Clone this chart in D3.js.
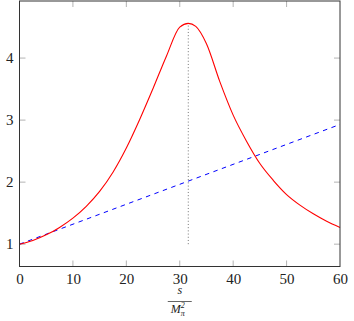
<!DOCTYPE html>
<html>
<head>
<meta charset="utf-8">
<script src="https://cdn.jsdelivr.net/npm/d3@7"></script>
<style>
  body { margin: 0; background: #fff; }
  svg text { font-family: "Liberation Serif", "DejaVu Serif", serif; }
</style>
</head>
<body>
<svg id="chart" width="354" height="321"></svg>
<script>
// form factor curve
const sValues = [0, 2.5, 5, 7.5, 10, 12.5, 15, 17.5, 20, 22.5, 25, 27.5, 30, 31.6, 33, 35, 37.5, 40, 42.5, 45, 47.5, 50, 52.5, 55, 57.5, 60];
const formFactor = [1.00, 1.06, 1.15, 1.27, 1.42, 1.61, 1.85, 2.16, 2.55, 3.01, 3.51, 4.03, 4.50, 4.56, 4.51, 4.23, 3.62, 3.08, 2.66, 2.30, 2.03, 1.80, 1.63, 1.49, 1.37, 1.27];
// straight dashed line
const lineS = [0, 60];
const lineValues = [1, 2.93];
// vertical marker at the peak
const peakS = 31.6;
const peakRange = [1, 4.56];

const xTicks = [0, 10, 20, 30, 40, 50, 60];
const yTicks = [1, 2, 3, 4];

const margin = {left: 19.5, right: 14, top: 1, bottom: 54.5};
const width = 354, height = 321;

const svg = d3.select('#chart');

const xScale = d3.scaleLinear()
  .domain([0, 60])
  .range([margin.left, width - margin.right]);
const yScale = d3.scaleLinear()
  .domain([0.64, 4.92])
  .range([height - margin.bottom, margin.top]);

const tickLen = 6;
const gridColor = '#b3b3b3';

const xAxisBottom = d3.axisBottom(xScale).tickValues(xTicks).tickFormat(d3.format('d')).tickSize(0).tickPadding(7);
const yAxisLeft = d3.axisLeft(yScale).tickValues(yTicks).tickFormat(d3.format('d')).tickSize(0).tickPadding(6);

const gx = svg.append('g')
  .attr('transform', `translate(0, ${yScale.range()[0]})`)
  .call(xAxisBottom);
gx.select('.domain').remove();
gx.selectAll('text')
  .attr('font-size', 15)
  .attr('fill', '#222')
  .attr('font-family', '"Liberation Serif", serif');

const gy = svg.append('g')
  .attr('transform', `translate(${xScale.range()[0]}, 0)`)
  .call(yAxisLeft);
gy.select('.domain').remove();
gy.selectAll('text')
  .attr('font-size', 15)
  .attr('fill', '#222')
  .attr('font-family', '"Liberation Serif", serif');

const x0 = xScale.range()[0], x1 = xScale.range()[1];
const y0 = yScale.range()[0], y1 = yScale.range()[1];

// ticks on all four sides, pointing inwards
const ticks = svg.append('g').attr('stroke', gridColor).attr('stroke-width', 1);
const innerX = xTicks.filter(d => d > 0 && d < 60);
ticks.selectAll('.tb').data(innerX).join('line')
  .attr('x1', d => xScale(d)).attr('x2', d => xScale(d))
  .attr('y1', y0).attr('y2', y0 - tickLen);
ticks.selectAll('.tt').data(innerX).join('line')
  .attr('x1', d => xScale(d)).attr('x2', d => xScale(d))
  .attr('y1', y1).attr('y2', y1 + tickLen);
ticks.selectAll('.tl').data(yTicks).join('line')
  .attr('x1', x0).attr('x2', x0 + tickLen)
  .attr('y1', d => yScale(d)).attr('y2', d => yScale(d));
ticks.selectAll('.tr').data(yTicks).join('line')
  .attr('x1', x1).attr('x2', x1 - tickLen)
  .attr('y1', d => yScale(d)).attr('y2', d => yScale(d));

// vertical dotted marker
svg.append('line')
  .attr('x1', xScale(peakS)).attr('x2', xScale(peakS))
  .attr('y1', yScale(peakRange[0])).attr('y2', yScale(peakRange[1]))
  .attr('stroke', '#666')
  .attr('stroke-width', 0.9)
  .attr('stroke-dasharray', '1 2.2');

// dashed blue line
const lineData = lineS.map((s, i) => ({s: s, v: lineValues[i]}));
svg.append('path')
  .datum(lineData)
  .attr('fill', 'none')
  .attr('stroke', '#0000ff')
  .attr('stroke-width', 1)
  .attr('stroke-dasharray', '4.5 4.5')
  .attr('d', d3.line().x(d => xScale(d.s)).y(d => yScale(d.v)));

// red curve
const curveData = sValues.map((s, i) => ({s: s, v: formFactor[i]}));
svg.append('path')
  .datum(curveData)
  .attr('fill', 'none')
  .attr('stroke', '#ff0000')
  .attr('stroke-width', 1.1)
  .attr('d', d3.line().curve(d3.curveMonotoneX).x(d => xScale(d.s)).y(d => yScale(d.v)));

// frame
svg.append('rect')
  .attr('x', x0).attr('y', y1)
  .attr('width', x1 - x0).attr('height', y0 - y1)
  .attr('fill', 'none')
  .attr('stroke', '#333')
  .attr('stroke-width', 1);

// axis label s / M_pi^2
const cx = (x0 + x1) / 2;
const label = svg.append('g').attr('font-style', 'italic').attr('fill', '#222');
label.append('text')
  .attr('x', cx).attr('y', 294)
  .attr('text-anchor', 'middle')
  .attr('font-size', 12)
  .text('s');
svg.append('line')
  .attr('x1', cx - 12).attr('x2', cx + 12)
  .attr('y1', 301.5).attr('y2', 301.5)
  .attr('stroke', '#222').attr('stroke-width', 0.7);
const mText = label.append('text')
  .attr('x', cx - 2).attr('y', 313)
  .attr('text-anchor', 'middle')
  .attr('font-size', 12);
mText.append('tspan').text('M');
mText.append('tspan').attr('font-size', 8).attr('dy', -5).text('2');
mText.append('tspan').attr('font-size', 8).attr('dx', -4).attr('dy', 8).text('π');
</script>
</body>
</html>
